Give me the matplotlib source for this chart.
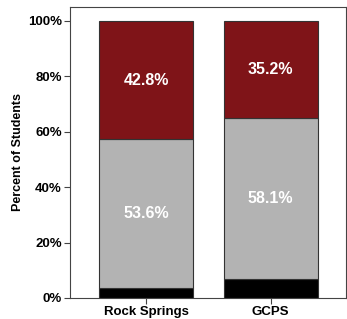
import matplotlib
matplotlib.use("Agg")
import matplotlib.pyplot as plt
import numpy as np

plt.rcParams["font.family"] = ["Liberation Sans", "DejaVu Sans"]

# 数据
schools = ["Rock Springs", "GCPS"]
bottom_pct = [3.6, 6.7]
middle_pct = [53.6, 58.1]
top_pct = [42.8, 35.2]

fig = plt.figure(figsize=(3.47, 3.19), dpi=100)
ax = fig.add_axes([0.202, 0.066, 0.795, 0.912])

x = np.arange(len(schools))
w = 0.755
edge = "#333333"
ax.bar(x, bottom_pct, w, color="#000000", edgecolor=edge, linewidth=0.8)
ax.bar(x, middle_pct, w, bottom=bottom_pct, color="#b3b3b3", edgecolor=edge, linewidth=0.8)
mid_top = np.array(bottom_pct) + np.array(middle_pct)
ax.bar(x, top_pct, w, bottom=mid_top, color="#7f1418", edgecolor=edge, linewidth=0.8)

for i in range(len(schools)):
    ax.text(x[i], bottom_pct[i] + middle_pct[i] / 2, f"{middle_pct[i]:.1f}%",
            ha="center", va="center", color="white", fontsize=11.5, fontweight="bold")
    ax.text(x[i], mid_top[i] + top_pct[i] / 2, f"{top_pct[i]:.1f}%",
            ha="center", va="center", color="white", fontsize=11.5, fontweight="bold")

ax.set_xlim(-0.61, 1.606)
ax.set_ylim(0, 105)
ax.set_yticks(range(0, 101, 20))
ax.set_yticklabels([f"{v}%" for v in range(0, 101, 20)], fontsize=9.5, fontweight="bold")
ax.set_xticks(x)
ax.set_xticklabels(schools, fontsize=9.5, fontweight="bold")
ax.set_ylabel("Percent of Students", fontsize=9, fontweight="bold", labelpad=3)
ax.tick_params(length=4, width=0.8, color="#444444", pad=2)
for s in ax.spines.values():
    s.set_color("#444444")
    s.set_linewidth(0.8)

plt.savefig("out.png", dpi=100)
plt.close()
